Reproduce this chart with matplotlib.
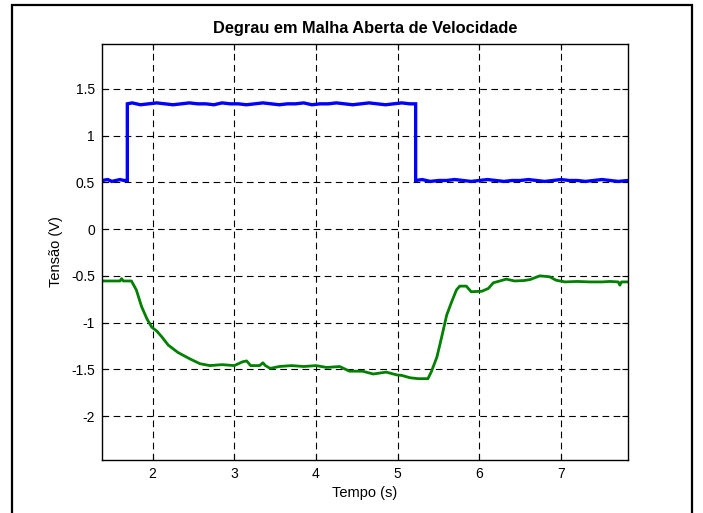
import matplotlib
matplotlib.use("Agg")
import matplotlib.pyplot as plt
from matplotlib.patches import Rectangle

plt.rcParams['font.family'] = ['Liberation Sans', 'DejaVu Sans']

# ---- data ----
title = "Degrau em Malha Aberta de Velocidade"
xlabel = "Tempo (s)"
ylabel = "Tensão (V)"
xticks = [2, 3, 4, 5, 6, 7]
yticks = [-2, -1.5, -1, -0.5, 0, 0.5, 1, 1.5]
ytick_labels = ["-2", "-1.5", "-1", "-0.5", "0", "0.5", "1", "1.5"]

t_blue = [1.38, 1.45, 1.50, 1.55, 1.60, 1.65, 1.69, 1.69, 1.75, 1.85, 1.95, 2.05,
          2.15, 2.25, 2.35, 2.45, 2.55, 2.65, 2.75, 2.85, 2.95, 3.05, 3.15, 3.25,
          3.35, 3.45, 3.55, 3.65, 3.75, 3.85, 3.95, 4.05, 4.15, 4.25, 4.35, 4.45,
          4.55, 4.65, 4.75, 4.85, 4.95, 5.05, 5.15, 5.22, 5.22, 5.30, 5.40, 5.50,
          5.60, 5.70, 5.80, 5.90, 6.00, 6.10, 6.20, 6.30, 6.40, 6.50, 6.60, 6.70,
          6.80, 6.90, 7.00, 7.10, 7.20, 7.30, 7.40, 7.50, 7.60, 7.70, 7.82]
v_blue = [0.52, 0.53, 0.51, 0.52, 0.53, 0.52, 0.52, 1.34, 1.35, 1.33, 1.34, 1.35,
          1.34, 1.33, 1.34, 1.35, 1.34, 1.34, 1.33, 1.35, 1.34, 1.34, 1.33, 1.34,
          1.35, 1.34, 1.33, 1.34, 1.34, 1.35, 1.33, 1.34, 1.34, 1.35, 1.34, 1.33,
          1.34, 1.35, 1.34, 1.33, 1.34, 1.35, 1.34, 1.34, 0.52, 0.53, 0.51, 0.52,
          0.52, 0.53, 0.52, 0.51, 0.52, 0.53, 0.52, 0.51, 0.52, 0.52, 0.53, 0.52,
          0.51, 0.52, 0.53, 0.52, 0.52, 0.51, 0.52, 0.53, 0.52, 0.51, 0.52]

t_green = [1.38, 1.60, 1.62, 1.64, 1.66, 1.74, 1.80, 1.865, 1.93, 1.99, 2.05, 2.11,
           2.19, 2.31, 2.46, 2.58, 2.70, 2.85, 3.00, 3.10, 3.15, 3.20, 3.31, 3.35,
           3.38, 3.44, 3.55, 3.70, 3.85, 4.00, 4.13, 4.29, 4.41, 4.57, 4.70, 4.86,
           4.99, 5.05, 5.15, 5.25, 5.37, 5.41, 5.48, 5.54, 5.60, 5.66, 5.72, 5.76,
           5.84, 5.90, 6.03, 6.11, 6.17, 6.25, 6.33, 6.43, 6.55, 6.62, 6.74, 6.86,
           6.94, 7.05, 7.20, 7.35, 7.50, 7.60, 7.70, 7.72, 7.74, 7.82]
v_green = [-0.555, -0.555, -0.53, -0.555, -0.555, -0.555, -0.65, -0.83, -0.96, -1.05, -1.09, -1.15,
           -1.24, -1.32, -1.39, -1.44, -1.46, -1.45, -1.46, -1.42, -1.41, -1.46, -1.46, -1.43,
           -1.46, -1.49, -1.47, -1.46, -1.47, -1.46, -1.48, -1.47, -1.52, -1.52, -1.55, -1.53,
           -1.56, -1.565, -1.59, -1.60, -1.60, -1.53, -1.37, -1.15, -0.92, -0.78, -0.65, -0.61,
           -0.61, -0.67, -0.665, -0.635, -0.575, -0.555, -0.535, -0.555, -0.55, -0.54, -0.50, -0.51,
           -0.547, -0.565, -0.56, -0.565, -0.565, -0.56, -0.565, -0.60, -0.565, -0.565]

# ---- figure ----
W, H = 703, 513
fig = plt.figure(figsize=(W / 100, H / 100), dpi=100)
fig.patch.set_facecolor('white')

L, R, T, B = 102, 628, 44, 460
ax = fig.add_axes([L / W, 1 - B / H, (R - L) / W, (B - T) / H])

ax.plot(t_blue, v_blue, color=(0, 0, 1), lw=2.4, solid_joinstyle='miter')
ax.plot(t_green, v_green, color=(0, 0.5, 0), lw=2.0)

ax.set_xlim(1.38, 7.82)
ax.set_ylim(-2.47, 1.98)
ax.set_xticks(xticks)
ax.set_xticklabels([str(x) for x in xticks])
ax.set_yticks(yticks)
ax.set_yticklabels(ytick_labels)

ax.grid(True, color='black', linestyle=(0, (6, 4)), linewidth=0.8)
ax.tick_params(direction='in', length=4, width=0.8, top=True, right=True,
               labelsize=10, pad=5, colors='black')
for s in ax.spines.values():
    s.set_linewidth(1.0)
    s.set_color('black')

ax.set_title(title, fontsize=11.8, fontweight='bold', pad=8)
ax.set_xlabel(xlabel, fontsize=10.5, labelpad=4)
ax.set_ylabel(ylabel, fontsize=10.5, labelpad=6)

# outer frame around the figure
fig.patches.append(Rectangle((12 / W, -0.02), (692 - 12) / W, 1.02 - 5 / H,
                             transform=fig.transFigure, fill=False,
                             edgecolor='black', linewidth=1.6, clip_on=False))

fig.savefig("out.png", dpi=100)
